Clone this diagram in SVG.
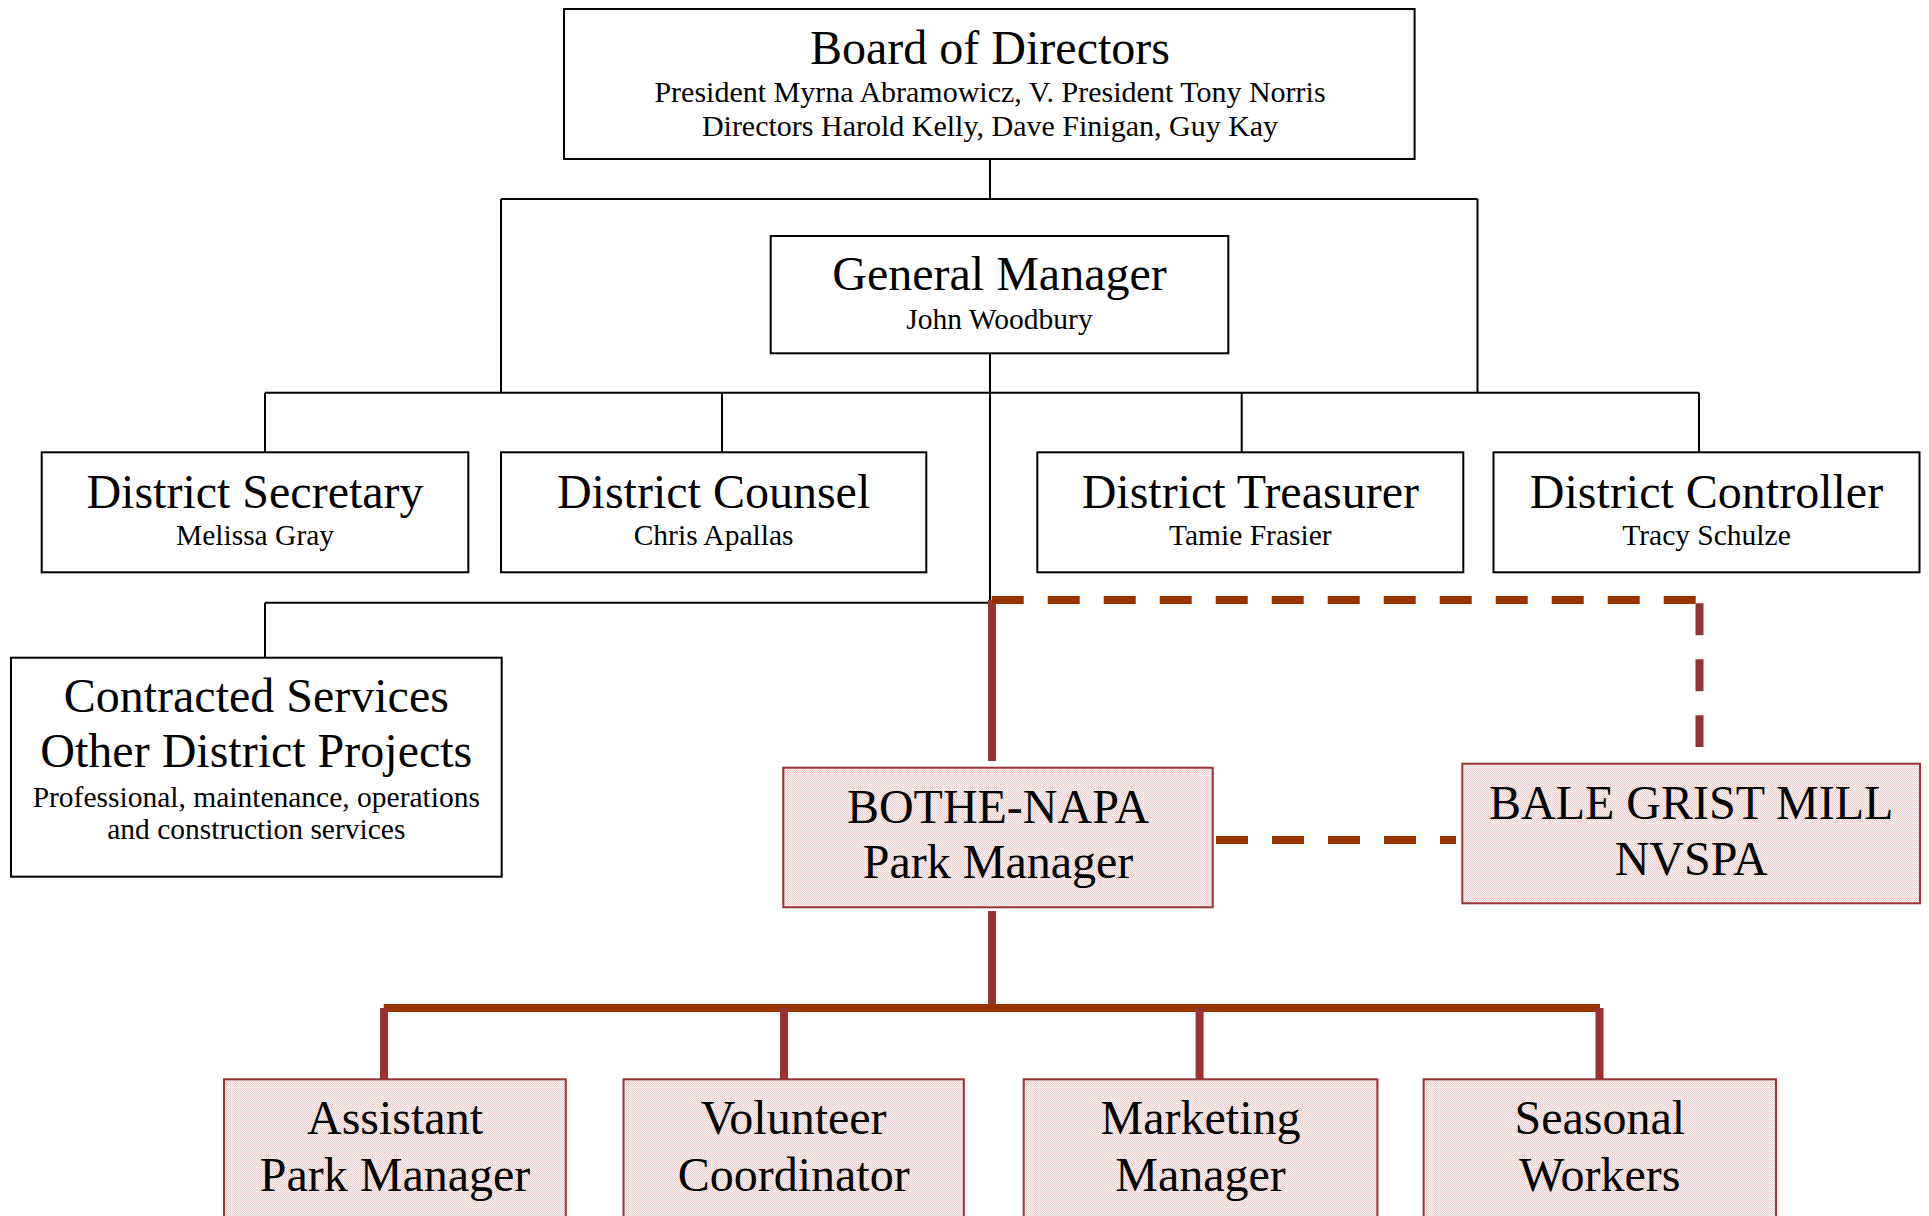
<svg xmlns="http://www.w3.org/2000/svg" width="1929" height="1216" viewBox="0 0 1929 1216">
  <defs>
    <pattern id="pinkDither" width="2" height="2" patternUnits="userSpaceOnUse">
      <rect width="2" height="2" fill="#fcf6f6"/>
      <rect x="0" y="0" width="1" height="1" fill="#e6c4c4"/>
      <rect x="1" y="1" width="1" height="1" fill="#ecd2d2"/>
    </pattern>
    <style>
      .box { fill: #ffffff; stroke: #000000; stroke-width: 2; }
      .park { fill: url(#pinkDither); stroke: #993333; stroke-width: 2; }
      .title { font-family: "Liberation Serif", "Times New Roman", serif; font-size: 48px; fill: #000; text-anchor: middle; }
      .sub { font-family: "Liberation Serif", "Times New Roman", serif; font-size: 29.5px; fill: #000; text-anchor: middle; }
      .sub.wide { font-size: 30px; }
      .thin { stroke: #000000; stroke-width: 2; fill: none; }
      .thick { stroke: #993333; stroke-width: 8; fill: none; }
      .thickBar { stroke: #993300; stroke-width: 8; fill: none; }
      .dashH { stroke: #993300; stroke-width: 8; fill: none; stroke-dasharray: 32 24; }
      .dashV { stroke: #993333; stroke-width: 8; fill: none; stroke-dasharray: 32 24; }
    </style>
  </defs>

  <rect width="1929" height="1216" fill="#ffffff"/>

  <!-- connectors -->
  <g id="connectors">
    <!-- board to general manager and branches -->
    <path class="thin" d="M990 159 V199 M501 199 H1477.5 M501 199 V392.7 M1477.5 199 V392.7"/>
    <!-- general manager trunk -->
    <path class="thin" d="M990 353 V602.7"/>
    <!-- district officers bus -->
    <path class="thin" d="M265 392.7 H1699 M265 392.7 V452 M722 392.7 V452 M1241.7 392.7 V452 M1699 392.7 V452"/>
    <!-- contracted services -->
    <path class="thin" d="M265 602.7 H990 M265 602.7 V657.7"/>
    <!-- park manager line -->
    <path class="thick" d="M992 600 V761"/>
    <!-- dotted-line relationship to grist mill -->
    <path class="dashH" d="M991.7 600 H1696"/>
    <path class="dashV" d="M1699.5 603.3 V747"/>
    <path class="dashH" d="M1216 840 H1456"/>
    <!-- park staff -->
    <path class="thick" d="M992 911 V1008"/>
    <path class="thickBar" d="M383.7 1008 H1600"/>
    <path class="thick" d="M384 1008 V1079 M784 1008 V1079 M1199.6 1008 V1079 M1599.5 1008 V1079"/>
  </g>

  <g id="board">
    <rect class="box" x="564" y="9" width="850.6" height="150"/>
    <text class="title" x="990" y="64">Board of Directors</text>
    <text class="sub wide" x="990" y="102">President Myrna Abramowicz, V. President Tony Norris</text>
    <text class="sub wide" x="990" y="135.5">Directors Harold Kelly, Dave Finigan, Guy Kay</text>
  </g>

  <g id="general-manager">
    <rect class="box" x="770.7" y="236" width="457.6" height="117.3"/>
    <text class="title" x="999.5" y="290">General Manager</text>
    <text class="sub" x="999.5" y="329">John Woodbury</text>
  </g>

  <g id="district-secretary">
    <rect class="box" x="41.7" y="452.3" width="426.6" height="120"/>
    <text class="title" x="255" y="508.3">District Secretary</text>
    <text class="sub" x="255" y="544.8">Melissa Gray</text>
  </g>

  <g id="district-counsel">
    <rect class="box" x="501" y="452.3" width="425.3" height="120"/>
    <text class="title" x="713.6" y="508.3">District Counsel</text>
    <text class="sub" x="713.6" y="544.8">Chris Apallas</text>
  </g>

  <g id="district-treasurer">
    <rect class="box" x="1037.3" y="452.3" width="426" height="120"/>
    <text class="title" x="1250.3" y="508.3">District Treasurer</text>
    <text class="sub" x="1250.3" y="544.8">Tamie Frasier</text>
  </g>

  <g id="district-controller">
    <rect class="box" x="1493.5" y="452.3" width="426" height="120"/>
    <text class="title" x="1706.5" y="508.3">District Controller</text>
    <text class="sub" x="1706.5" y="544.8">Tracy Schulze</text>
  </g>

  <g id="contracted-services">
    <rect class="box" x="11" y="657.7" width="490.7" height="219"/>
    <text class="title" x="256.3" y="711.7">Contracted Services</text>
    <text class="title" x="256.3" y="766.7">Other District Projects</text>
    <text class="sub" x="256.3" y="806.7">Professional, maintenance, operations</text>
    <text class="sub" x="256.3" y="838.8">and construction services</text>
  </g>

  <g id="bothe-napa">
    <rect class="park" x="783.3" y="767.7" width="429.4" height="139.6"/>
    <text class="title" x="998" y="822.7">BOTHE-NAPA</text>
    <text class="title" x="998" y="878.3">Park Manager</text>
  </g>

  <g id="bale-grist-mill">
    <rect class="park" x="1462.3" y="763.7" width="457.7" height="139.6"/>
    <text class="title" x="1691.2" y="819.3">BALE GRIST MILL</text>
    <text class="title" x="1691.2" y="875">NVSPA</text>
  </g>

  <g id="assistant-park-manager">
    <rect class="park" x="224" y="1079.3" width="341.8" height="160"/>
    <text class="title" x="395" y="1134">Assistant</text>
    <text class="title" x="395" y="1190.7">Park Manager</text>
  </g>

  <g id="volunteer-coordinator">
    <rect class="park" x="623.5" y="1079.3" width="340.3" height="160"/>
    <text class="title" x="793.7" y="1134">Volunteer</text>
    <text class="title" x="793.7" y="1190.7">Coordinator</text>
  </g>

  <g id="marketing-manager">
    <rect class="park" x="1023.7" y="1079.3" width="353.7" height="160"/>
    <text class="title" x="1200.5" y="1134">Marketing</text>
    <text class="title" x="1200.5" y="1190.7">Manager</text>
  </g>

  <g id="seasonal-workers">
    <rect class="park" x="1423.6" y="1079.3" width="352.4" height="160"/>
    <text class="title" x="1599.8" y="1134">Seasonal</text>
    <text class="title" x="1599.8" y="1190.7">Workers</text>
  </g>
</svg>
